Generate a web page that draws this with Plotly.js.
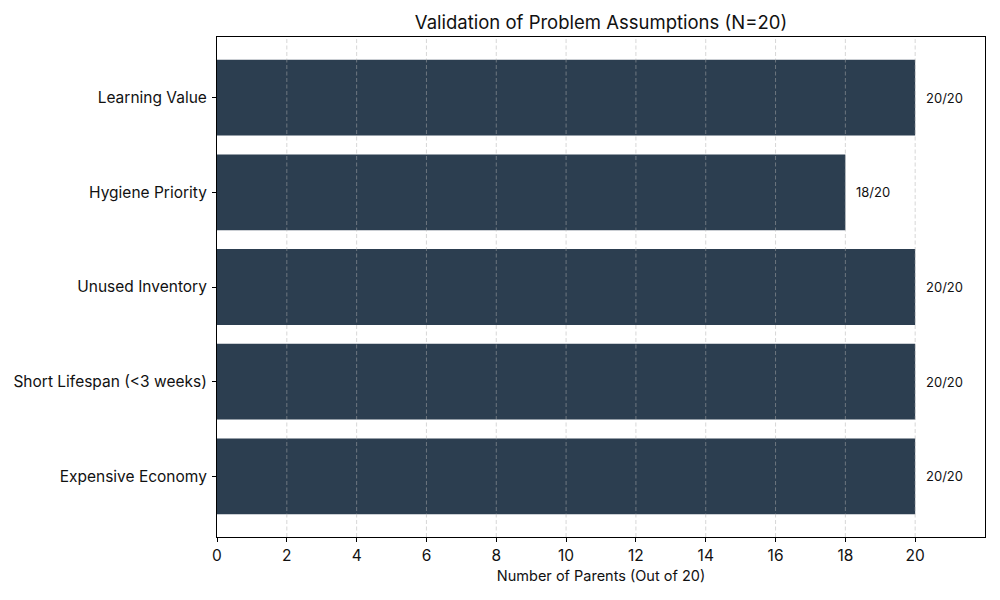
<!DOCTYPE html>
<html>
<head>
<meta charset="utf-8">
<script src="https://cdn.plot.ly/plotly-3.0.1.min.js"></script>
<style>html,body{margin:0;padding:0;background:#fff;}#chart{width:1000px;height:600px;}</style>
</head>
<body>
<div id="chart"></div>
<script>
const categories = ["Expensive Economy", "Short Lifespan (<3 weeks)", "Unused Inventory", "Hygiene Priority", "Learning Value"];
const counts = [20, 20, 20, 18, 20];
const total = 20;
const labels = counts.map(v => v + "/" + total);
const xTicks = [0, 2, 4, 6, 8, 10, 12, 14, 16, 18, 20];

const FONT = "Inter, 'Noto Sans', sans-serif";

const trace = {
  type: "bar",
  orientation: "h",
  y: categories,
  x: counts,
  width: 0.8,
  marker: {color: "#2c3e50", line: {width: 0}},
  hoverinfo: "none"
};

const annotations = categories.map((c, i) => ({
  x: counts[i], y: c, xref: "x", yref: "y",
  text: labels[i], showarrow: false,
  xanchor: "left", yanchor: "middle", xshift: 9,
  font: {family: FONT, size: 13, color: "#111"}
}));

const shapes = xTicks.filter(t => t > 0).map(t => ({
  type: "line", xref: "x", yref: "paper",
  x0: t, x1: t, y0: 0, y1: 1,
  layer: "above",
  line: {color: "rgba(175,175,175,0.5)", width: 1, dash: "4px,2.5px"}
}));

const layout = {
  width: 1000, height: 600,
  margin: {l: 217, r: 15, t: 37, b: 63},
  paper_bgcolor: "#fff", plot_bgcolor: "#fff",
  showlegend: false,
  bargap: 0.2,
  font: {family: FONT, color: "#111"},
  title: {
    text: "Validation of Problem Assumptions (N=20)",
    font: {family: FONT, size: 18.5, color: "#111"},
    x: 0.5, xanchor: "center", xref: "paper",
    y: 1 - 23/600, yanchor: "middle", yref: "container"
  },
  xaxis: {
    range: [0, 22],
    tickvals: xTicks,
    ticktext: xTicks.map(String),
    showgrid: false,
    zeroline: false,
    showline: true, linecolor: "#000", linewidth: 1, mirror: true,
    ticks: "outside", ticklen: 4, tickcolor: "#000", tickwidth: 1,
    tickfont: {family: FONT, size: 15.5, color: "#111"},
    title: {text: "Number of Parents (Out of 20)", font: {family: FONT, size: 14.5, color: "#111"}, standoff: 7},
    fixedrange: true
  },
  yaxis: {
    type: "category",
    range: [-0.64, 4.64],
    showgrid: false,
    zeroline: false,
    showline: true, linecolor: "#000", linewidth: 1, mirror: true,
    ticks: "outside", ticklen: 4, tickcolor: "#000", tickwidth: 1,
    tickfont: {family: FONT, size: 15.5, color: "#111"},
    ticklabelstandoff: 2,
    fixedrange: true
  },
  annotations: annotations,
  shapes: shapes
};

Plotly.newPlot("chart", [trace], layout, {displayModeBar: false, staticPlot: true});
</script>
</body>
</html>
